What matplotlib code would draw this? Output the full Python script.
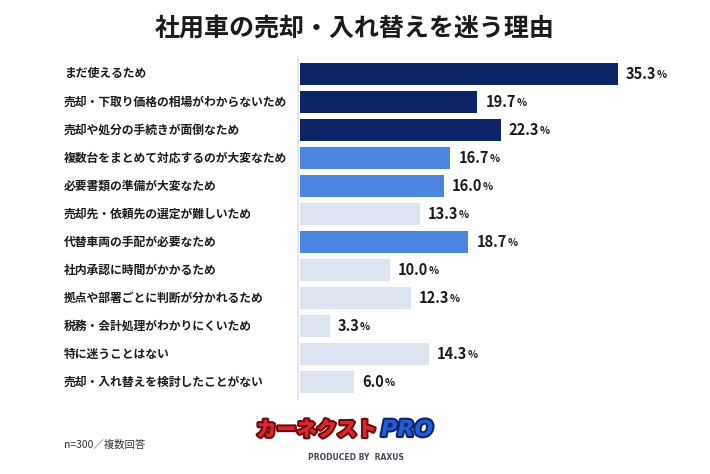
import matplotlib
matplotlib.use("Agg")
import matplotlib.pyplot as plt
import matplotlib.patheffects as pe

plt.rcParams['font.family'] = ['Noto Sans CJK JP', 'DejaVu Sans']

title = "社用車の売却・入れ替えを迷う理由"
categories = [
    "まだ使えるため",
    "売却・下取り価格の相場がわからないため",
    "売却や処分の手続きが面倒なため",
    "複数台をまとめて対応するのが大変なため",
    "必要書類の準備が大変なため",
    "売却先・依頼先の選定が難しいため",
    "代替車両の手配が必要なため",
    "社内承認に時間がかかるため",
    "拠点や部署ごとに判断が分かれるため",
    "税務・会計処理がわかりにくいため",
    "特に迷うことはない",
    "売却・入れ替えを検討したことがない",
]
values = [35.3, 19.7, 22.3, 16.7, 16.0, 13.3, 18.7, 10.0, 12.3, 3.3, 14.3, 6.0]
groups = ["dark", "dark", "dark", "mid", "mid", "light", "mid",
          "light", "light", "light", "light", "light"]
palette = {"dark": "#0c2566", "mid": "#4a86e0", "light": "#dce3f1"}
footnote = "n=300／複数回答"

W, H = 710, 474
fig = plt.figure(figsize=(W / 100, H / 100), dpi=100)
fig.patch.set_facecolor("white")

ax = fig.add_axes([298 / W, 1 - 398.8 / H, 360 / W, (398.8 - 57.2) / H])
y = list(range(len(categories)))
ax.barh(y, values, height=0.76, color=[palette[g] for g in groups], left=0.2)
ax.set_xlim(0, 40)
ax.set_ylim(len(categories) - 0.4, -0.6)
for s in ["top", "right", "bottom"]:
    ax.spines[s].set_visible(False)
ax.spines["left"].set_color("#e3e3e3")
ax.spines["left"].set_linewidth(1.2)
ax.set_xticks([])
ax.set_yticks([])

label_x = -40 * (298 - 64) / 360
for i, (v, c) in enumerate(zip(values, categories)):
    t = ax.annotate(f"{v:.1f}", xy=(v + 0.2, i), xytext=(6, 0),
                    textcoords="offset points", va="center", ha="left",
                    fontsize=10.5, fontweight="bold", color="#1a1a1a")
    ax.annotate("%", xy=(1, 0.12), xycoords=t, xytext=(0.3, 0),
                textcoords="offset points", va="bottom", ha="left",
                fontsize=7.5, fontweight="bold", color="#1a1a1a")
    ax.text(label_x, i, c, transform=ax.transData,
            va="center", ha="left", fontsize=8.5, fontweight="bold", color="#1a1a1a")

fig.text(355 / W, 1 - 29 / H, title, ha="center", va="center",
         fontsize=18, fontweight="bold", color="#1a1a1a")

fig.text(64 / W, 1 - 445 / H, footnote, ha="left", va="center",
         fontsize=7.5, color="#333333")

# logo
lt = fig.text(377 / W, 1 - 430 / H, "カーネクスト", ha="right", va="center",
              fontsize=14.5, fontweight="black", color="#e0262b")
lt.set_path_effects([pe.Stroke(linewidth=3, foreground="#6b0d10"), pe.Normal()])
pr = fig.text(381 / W, 1 - 430 / H, "PRO", ha="left", va="center",
              fontsize=16, fontweight="black", color="#1f5fd6", fontstyle="italic",
              family=["DejaVu Sans"])
pr.set_path_effects([pe.Stroke(linewidth=3, foreground="#0d2366"), pe.Normal()])
fig.text(356 / W, 1 - 457 / H, "PRODUCED BY  RAXUS", ha="center", va="center",
         fontsize=5.5, fontweight="bold", color="#444a5a", family=["DejaVu Sans"])

fig.savefig("out.png", dpi=100, facecolor="white")
